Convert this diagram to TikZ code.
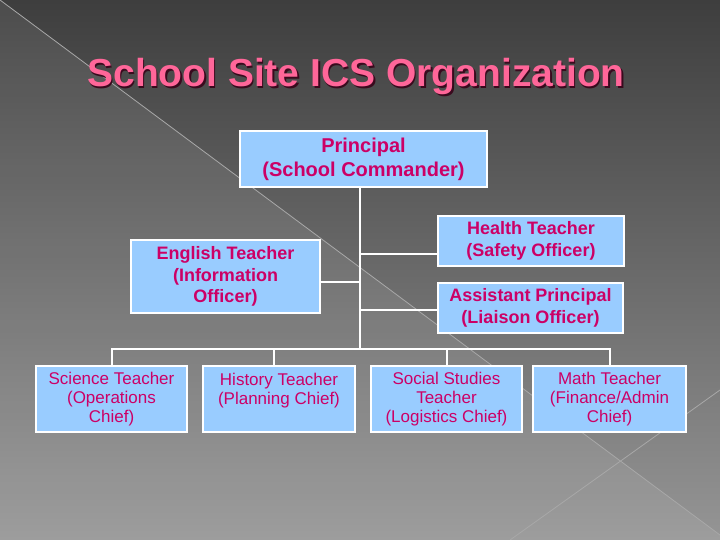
\documentclass[tikz,border=0pt]{standalone}
\usepackage{fontspec}
\setmainfont{Liberation Sans}
\usetikzlibrary{calc}
\definecolor{boxblue}{HTML}{99CCFF}
\definecolor{txtmag}{HTML}{CC0066}
\definecolor{titlepink}{HTML}{FF6699}
\definecolor{titleshade}{HTML}{3A0A1E}
\definecolor{bgtop}{HTML}{3E3E3E}
\definecolor{bgbot}{HTML}{959595}
\definecolor{diagline}{HTML}{A8A8A8}
\tikzset{
  orgbox/.style={draw=white, line width=2pt, fill=boxblue, text=txtmag, align=center, inner sep=0pt},
  midtext/.style={font=\fontsize{18}{22}\selectfont\bfseries},
  lowtext/.style={font=\fontsize{17}{19}\selectfont},
  link/.style={draw=white, line width=2pt, line join=miter}
}
\begin{document}
\begin{tikzpicture}[x=1pt,y=-1pt]
\useasboundingbox (0,0) rectangle (720,540);
% background
\begin{scope}[y=1pt]
  \shade[top color=bgtop, bottom color=bgbot] (0,-540) rectangle (720,0);
\end{scope}
\fill[white, opacity=0.08] (0,0) -- (720,535) -- (720,540) -- (0,540) -- cycle;
\draw[diagline, line width=0.8pt] (0,0) -- (720,535);
\draw[diagline, line width=0.8pt] (720,390) -- (510,540);
% title
\node[anchor=base, text=titleshade, font=\fontsize{39}{44}\selectfont\bfseries] (titleshadow) at (357.5,88.5) {School Site ICS Organization};
\node[anchor=base, text=titlepink, font=\fontsize{39}{44}\selectfont\bfseries] (title) at (356,87) {School Site ICS Organization};
% boxes
\node[orgbox, minimum width=247, minimum height=56, font=\fontsize{20}{24}\selectfont\bfseries] (prin) at (363.5,159) {Principal\\(School Commander)};
\node[orgbox, midtext, minimum width=186, minimum height=50] (health) at (531,241) {Health Teacher\\(Safety Officer)};
\node[orgbox, midtext, minimum width=185, minimum height=50] (asst) at (530.5,307.5) {Assistant Principal\\(Liaison Officer)};
\node[orgbox, midtext, minimum width=189, minimum height=73, font=\fontsize{18}{21.5}\selectfont\bfseries] (eng) at (225.5,276.5) {English Teacher\\(Information\\Officer)};
\node[orgbox, lowtext, minimum width=151, minimum height=65.5] (sci) at (111.5,398.75) {Science Teacher\\(Operations\\Chief)};
\node[orgbox, lowtext, minimum width=152, minimum height=65.5] (hist) at (279,398.75) {History Teacher\\(Planning Chief)\\\mbox{}};
\node[orgbox, lowtext, minimum width=151, minimum height=65.5] (soc) at (446.5,398.75) {Social Studies\\Teacher\\(Logistics Chief)};
\node[orgbox, lowtext, minimum width=153, minimum height=65.5] (math) at (609.5,398.75) {Math Teacher\\(Finance/Admin\\Chief)};
% connectors
\coordinate (trunktop) at ($(prin.south)+(-3.5,0)$);
\coordinate (bus) at ($(trunktop)+(0,160.5)$);
\path[link] (trunktop) -- (bus);
\coordinate (hw) at ($(health.west)+(0,12.5)$);
\path[link] (hw) -- (hw -| trunktop);
\coordinate (ee) at ($(eng.east)+(0,5)$);
\path[link] (ee) -- (ee -| trunktop);
\coordinate (aw) at ($(asst.west)+(0,2)$);
\path[link] (aw) -- (aw -| trunktop);
\path[link] (sci.north) -- (sci.north |- bus) -- (math.north |- bus) -- (math.north);
\coordinate (hn) at ($(hist.north)+(-5.5,0)$);
\path[link] (hn) -- (hn |- bus);
\path[link] (soc.north) -- (soc.north |- bus);
\end{tikzpicture}
\end{document}
